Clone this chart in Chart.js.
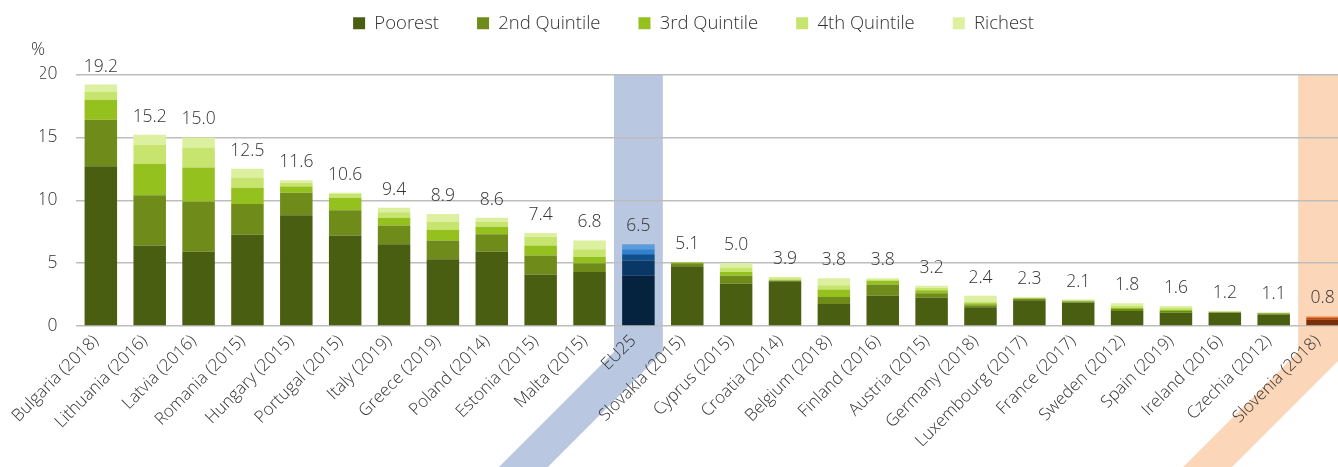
<!DOCTYPE html>
<html>
<head>
<meta charset="utf-8">
<script src="https://cdn.jsdelivr.net/npm/chart.js@4.4.1/dist/chart.umd.min.js"></script>
<style>
html, body { margin: 0; padding: 0; overflow: hidden; background: #fff; }
#wrap { width: 1347px; height: 467px; }
</style>
</head>
<body>
<div id="wrap"><canvas id="chart" width="1347" height="467"></canvas></div>
<script>
// Share of people in each income group (%)
const countries = ['Bulgaria (2018)', 'Lithuania (2016)', 'Latvia (2016)', 'Romania (2015)', 'Hungary (2015)',
    'Portugal (2015)', 'Italy (2019)', 'Greece (2019)', 'Poland (2014)', 'Estonia (2015)', 'Malta (2015)', 'EU25',
    'Slovakia (2015)', 'Cyprus (2015)', 'Croatia (2014)', 'Belgium (2018)', 'Finland (2016)', 'Austria (2015)',
    'Germany (2018)', 'Luxembourg (2017)', 'France (2017)', 'Sweden (2012)', 'Spain (2019)', 'Ireland (2016)',
    'Czechia (2012)', 'Slovenia (2018)'];

const poorest = [12.7, 6.4, 5.9, 7.25, 8.8, 7.2, 6.5, 5.3, 5.9, 4.1, 4.3, 4.0, 4.75, 3.35, 3.55, 1.75, 2.4, 2.25, 1.5, 2.05, 1.85, 1.2, 1.05, 1.05, 0.9, 0.5];
const quintile2 = [3.7, 4.0, 4.0, 2.45, 1.8, 2.0, 1.5, 1.5, 1.4, 1.5, 0.7, 1.2, 0.25, 0.65, 0.05, 0.55, 0.9, 0.35, 0.15, 0.1, 0.1, 0.15, 0.15, 0.05, 0.1, 0.15];
const quintile3 = [1.6, 2.5, 2.7, 1.3, 0.5, 1.0, 0.6, 0.85, 0.6, 0.8, 0.5, 0.5, 0.05, 0.3, 0.05, 0.6, 0.3, 0.25, 0.15, 0.05, 0.05, 0.1, 0.1, 0.03, 0.03, 0.05];
const quintile4 = [0.6, 1.5, 1.6, 0.8, 0.3, 0.3, 0.45, 0.65, 0.4, 0.7, 0.6, 0.4, 0.03, 0.35, 0.15, 0.35, 0.1, 0.2, 0.15, 0.05, 0.05, 0.15, 0.15, 0.03, 0.03, 0.05];
const richest = [0.6, 0.8, 0.8, 0.7, 0.2, 0.1, 0.35, 0.6, 0.3, 0.3, 0.7, 0.4, 0.02, 0.35, 0.1, 0.55, 0.1, 0.15, 0.45, 0.05, 0.05, 0.2, 0.15, 0.04, 0.04, 0.05];

const seriesNames = ['Poorest', '2nd Quintile', '3rd Quintile', '4th Quintile', 'Richest'];
const yTicks = [0, 5, 10, 15, 20];

const greens = ['#4a5e12', '#6f8c1a', '#95c11f', '#c6e46e', '#dcf0a0'];
const blues = ['#05233f', '#0a3866', '#0e4f8c', '#2f82d2', '#5c9bd8'];
const oranges = ['#7a2e08', '#b84810', '#e8661a', '#f39050', '#f7b080'];
const FONT = '"Open Sans", sans-serif';
const TEXT = '#333333';
const LEGEND_GAP = 32; // extra room between legend and plot

// highlighted bars get their own palette and a band behind them
const highlights = { 'EU25': { fill: blues, band: '#b9c7e1' }, 'Slovenia (2018)': { fill: oranges, band: '#fbd6b9' } };

function segColor(series) {
    return ctx => {
        const name = countries[ctx.dataIndex];
        if (ctx.dataIndex !== undefined && highlights[name]) return highlights[name].fill[series];
        return greens[series];
    };
}

// make the legend box taller so the plot starts lower
const legendSpacer = {
    id: 'legendSpacer',
    afterInit(chart) {
        const legend = chart.legend;
        const fit = legend.fit;
        legend.fit = function () {
            fit.call(this);
            this.height += LEGEND_GAP;
        };
    }
};

const bandPlugin = {
    id: 'bands',
    beforeDraw(chart) {
        const { ctx, chartArea, scales: { x } } = chart;
        const half = (x.getPixelForValue(1) - x.getPixelForValue(0)) / 2;
        const turn = chartArea.bottom + 26;
        const drop = chart.height - turn;
        ctx.save();
        countries.forEach((name, i) => {
            if (!highlights[name]) return;
            const cx = x.getPixelForValue(i);
            ctx.fillStyle = highlights[name].band;
            ctx.beginPath();
            ctx.moveTo(cx - half, chartArea.top);
            ctx.lineTo(cx + half, chartArea.top);
            ctx.lineTo(cx + half, turn);
            ctx.lineTo(cx + half - drop, chart.height);
            ctx.lineTo(cx - half - drop, chart.height);
            ctx.lineTo(cx - half, turn);
            ctx.closePath();
            ctx.fill();
        });
        ctx.restore();
    }
};

const totalsPlugin = {
    id: 'totals',
    afterDatasetsDraw(chart) {
        const { ctx, scales: { x, y } } = chart;
        ctx.save();
        ctx.font = '300 17.5px ' + FONT;
        ctx.fillStyle = TEXT;
        ctx.textAlign = 'center';
        ctx.textBaseline = 'alphabetic';
        countries.forEach((name, i) => {
            const total = poorest[i] + quintile2[i] + quintile3[i] + quintile4[i] + richest[i];
            ctx.fillText((Math.round(total * 10) / 10).toFixed(1), x.getPixelForValue(i), y.getPixelForValue(total) - 13);
        });
        // unit label above the y axis
        ctx.textAlign = 'right';
        ctx.fillText('%', 45, 55);
        ctx.restore();
    }
};

const chart = new Chart(document.getElementById('chart'), {
    type: 'bar',
    data: {
        labels: countries,
        datasets: [poorest, quintile2, quintile3, quintile4, richest].map((values, s) => ({
            label: seriesNames[s],
            data: values,
            backgroundColor: segColor(s),
            borderWidth: 0,
            barPercentage: 0.665,
            categoryPercentage: 1
        }))
    },
    options: {
        responsive: false,
        animation: false,
        layout: { padding: { top: -24, left: 40, right: 0, bottom: 0 } },
        plugins: {
            legend: {
                position: 'top',
                labels: {
                    boxWidth: 12,
                    boxHeight: 12,
                    padding: 38,
                    color: TEXT,
                    font: { family: FONT, size: 18.5, weight: 300 }
                }
            },
            tooltip: { enabled: false }
        },
        scales: {
            x: {
                stacked: true,
                grid: { display: false },
                border: { display: false },
                ticks: {
                    color: TEXT,
                    font: { family: FONT, size: 17, weight: 300 },
                    minRotation: 45,
                    maxRotation: 45,
                    autoSkip: false,
                    labelOffset: -5,
                    padding: -3
                },
                afterFit: scale => { scale.height = 141; }
            },
            y: {
                stacked: true,
                min: 0,
                max: 20,
                afterBuildTicks: scale => { scale.ticks = yTicks.map(v => ({ value: v })); },
                grid: { color: '#bdbdbd', lineWidth: 1.5, drawTicks: false },
                border: { display: false },
                ticks: {
                    color: TEXT,
                    font: { family: FONT, size: 17.5, weight: 300 },
                    padding: 19
                },
                afterFit: scale => { scale.width = 36.4; }
            }
        }
    },
    plugins: [legendSpacer, bandPlugin, totalsPlugin]
});
</script>
</body>
</html>
